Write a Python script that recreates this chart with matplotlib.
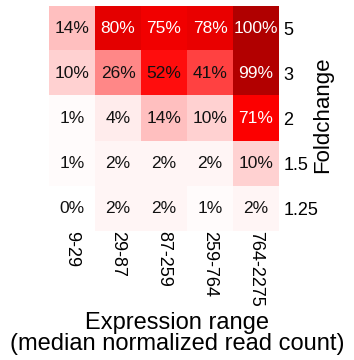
import numpy as np
import matplotlib
matplotlib.use("Agg")
import matplotlib.pyplot as plt
from matplotlib.colors import LinearSegmentedColormap

plt.rcParams['font.family'] = ['Liberation Sans', 'DejaVu Sans']

# expression bins (columns) and fold-change thresholds (rows, top to bottom)
expr_ranges = ['9-29', '29-87', '87-259', '259-764', '764-2275']
foldchanges = ['5', '3', '2', '1.5', '1.25']

# percent detected per cell
pct = np.array([
    [14, 80, 75, 78, 100],
    [10, 26, 52, 41, 99],
    [1, 4, 14, 10, 71],
    [1, 2, 2, 2, 10],
    [0, 2, 2, 1, 2],
])

cmap = LinearSegmentedColormap.from_list(
    'wr', [(0.0, '#ffffff'), (0.55, '#ff0000'), (0.7, '#ff0000'), (1.0, '#b00000')])

fig = plt.figure(figsize=(3.54, 3.6), dpi=100)
ax = fig.add_axes([49 / 354, 1 - 231 / 360, 230 / 354, 225 / 360])

ax.imshow(pct, cmap=cmap, vmin=0, vmax=100, aspect='auto')

for i in range(pct.shape[0]):
    for j in range(pct.shape[1]):
        v = pct[i, j]
        ax.text(j, i, f'{v}%', ha='center', va='center', fontsize=12.5,
                color='white' if v >= 60 else '#111111')

ax.set_xticks(range(len(expr_ranges)))
ax.set_xticklabels(expr_ranges, rotation=-90, fontsize=13, va='top')
ax.set_yticks(range(len(foldchanges)))
ax.set_yticklabels(foldchanges, fontsize=13)
ax.yaxis.tick_right()
ax.yaxis.set_label_position('right')
ax.tick_params(length=0)
ax.tick_params(axis='x', pad=0)
ax.tick_params(axis='y', pad=3)
for s in ax.spines.values():
    s.set_visible(False)

ax.set_ylabel('Foldchange', fontsize=16)
ax.yaxis.set_label_coords(1.145, 0.518)
ax.set_xlabel('Expression range\n(median normalized read count)', fontsize=17,
              linespacing=0.97)
ax.xaxis.set_label_coords(128 / 230, -81 / 225)

fig.savefig('out.png', dpi=100)
